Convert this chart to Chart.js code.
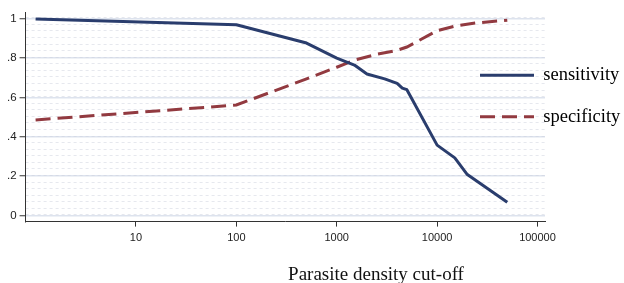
<!DOCTYPE html>
<html>
<head>
<meta charset="utf-8">
<script src="https://cdn.jsdelivr.net/npm/chart.js@4.4.0/dist/chart.umd.min.js"></script>
<style>
  html, body { margin: 0; padding: 0; background: #ffffff; }
  #wrap { width: 624px; height: 283px; position: relative; }
</style>
</head>
<body>
<div id="wrap"><canvas id="c" width="624" height="283"></canvas></div>
<script>
// ---- data ----
const sensCutoffs = [1, 100, 500, 1000, 1500, 2000, 3000, 4000, 4500, 5000, 10000, 15000, 20000, 50000];
const sensitivity = [1.0, 0.97, 0.877, 0.80, 0.765, 0.72, 0.695, 0.672, 0.648, 0.64, 0.358, 0.293, 0.208, 0.067];
const specCutoffs = [1, 100, 500, 1000, 1500, 2500, 4000, 5000, 10000, 15000, 25000, 50000];
const specificity = [0.486, 0.562, 0.695, 0.754, 0.79, 0.82, 0.84, 0.857, 0.94, 0.963, 0.98, 0.993];
const xTicks = [10, 100, 1000, 10000, 100000];
const xTickLabels = ['10', '100', '1000', '10000', '100000'];
const yTicks = [0, 0.2, 0.4, 0.6, 0.8, 1];
const yTickLabels = ['0', '.2', '.4', '.6', '.8', '1'];
const seriesNames = ['sensitivity', 'specificity'];
const xTitle = 'Parasite density cut-off';

const toPoints = (xs, ys) => xs.map((x, i) => ({ x: x, y: ys[i] }));

// faint background texture rows (decoration only)
const texture = [];
for (let v = -0.03; v <= 1.035; v += 0.0334) texture.push(v);

const placeBoxes = {
  id: 'placeBoxes',
  afterLayout(chart) {
    const lg = chart.legend;
    if (lg) { lg.left = 457; lg.top = 43; lg.right = 624; lg.bottom = 283; lg.width = 167; lg.height = 240; }
    const tb = chart.titleBlock;
    if (tb) { tb.left = 128; tb.right = 624; }
  }
};

new Chart(document.getElementById('c'), {
  type: 'scatter',
  data: {
    datasets: [
      {
        label: seriesNames[0],
        data: toPoints(sensCutoffs, sensitivity),
        showLine: true,
        borderColor: '#2a3d6d',
        backgroundColor: '#2a3d6d',
        borderWidth: 3,
        pointRadius: 0,
        tension: 0,
        borderJoinStyle: 'round'
      },
      {
        label: seriesNames[1],
        data: toPoints(specCutoffs, specificity),
        showLine: true,
        borderColor: '#923a40',
        backgroundColor: '#923a40',
        borderWidth: 3,
        borderDash: [15, 7],
        pointRadius: 0,
        tension: 0
      }
    ]
  },
  options: {
    responsive: false,
    animation: false,
    devicePixelRatio: 1,
    layout: { padding: { left: 4, right: 79, top: 12, bottom: 0 } },
    plugins: {
      tooltip: { enabled: false },
      legend: {
        position: 'chartArea',
        align: 'start',
        labels: {
          usePointStyle: true,
          pointStyle: 'line',
          pointStyleWidth: 54,
          padding: 23,
          color: '#000',
          font: { family: '"Liberation Serif", "Times New Roman", serif', size: 18.5 },
          generateLabels(chart) {
            const items = Chart.defaults.plugins.legend.labels.generateLabels(chart);
            items.forEach(it => {
              const ds = chart.data.datasets[it.datasetIndex];
              it.lineDash = ds.borderDash || [];
              it.lineWidth = ds.borderWidth;
              it.strokeStyle = ds.borderColor;
              it.lineCap = 'butt';
            });
            return items;
          }
        }
      },
      title: {
        display: true,
        position: 'bottom',
        text: xTitle,
        color: '#111',
        font: { family: '"Liberation Serif", "Times New Roman", serif', size: 19, weight: 'normal', lineHeight: 0.8 },
        padding: { top: 18, bottom: 0 }
      }
    },
    scales: {
      x: {
        type: 'logarithmic',
        min: 0.795,
        max: 118800,
        afterBuildTicks(scale) { scale.ticks = xTicks.map(v => ({ value: v })); },
        ticks: {
          autoSkip: false,
          maxRotation: 0,
          padding: 5,
          color: '#222',
          font: { family: '"Liberation Sans", Arial, sans-serif', size: 11 },
          callback(value) { const i = xTicks.indexOf(value); return i >= 0 ? xTickLabels[i] : ''; }
        },
        grid: { drawOnChartArea: false, drawTicks: true, tickLength: 5, tickColor: '#333', lineWidth: 1 },
        border: { display: true, color: '#333', width: 1 }
      },
      y: {
        min: -0.031,
        max: 1.035,
        afterBuildTicks(scale) { scale.ticks = yTicks.map(v => ({ value: v })); },
        ticks: {
          autoSkip: false,
          padding: 3,
          color: '#222',
          font: { family: '"Liberation Sans", Arial, sans-serif', size: 11.5 },
          callback(value) { const i = yTicks.indexOf(value); return i >= 0 ? yTickLabels[i] : ''; }
        },
        grid: { color: '#dde3ee', lineWidth: 1.5, drawTicks: true, tickLength: 6, tickColor: '#333', tickWidth: 1 },
        border: { display: true, color: '#333', width: 1 }
      },
      yTexture: {
        position: 'right',
        min: -0.031,
        max: 1.035,
        afterBuildTicks(scale) { scale.ticks = texture.map(v => ({ value: v })); },
        ticks: { display: false },
        grid: { color: 'rgba(205,210,222,0.5)', lineWidth: 1, drawTicks: false },
        border: { display: false, dash: [3, 3] }
      }
    }
  },
  plugins: [placeBoxes]
});
</script>
</body>
</html>
